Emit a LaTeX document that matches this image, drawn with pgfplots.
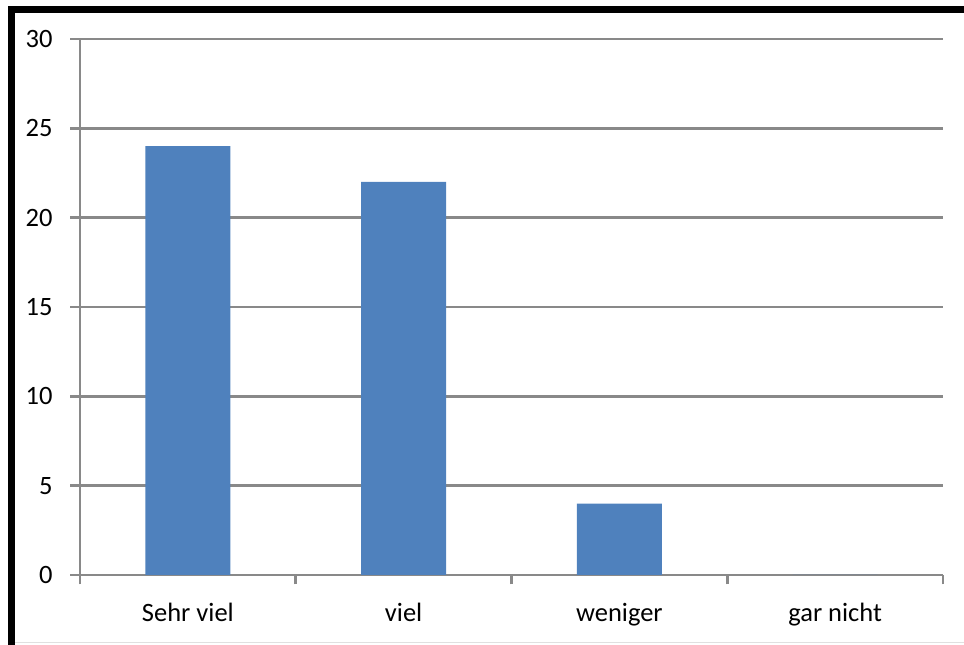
\documentclass[border=0pt]{standalone}
\usepackage{pgfplots}
\pgfplotsset{compat=1.18}
\usepackage{fontspec}
\setmainfont{Carlito}
\definecolor{barblue}{HTML}{4F81BD}
\definecolor{gridgray}{HTML}{898989}
\begin{document}
\fontsize{26.5bp}{31bp}\selectfont
\begin{tikzpicture}[x=1bp,y=1bp]
\useasboundingbox (0,0) rectangle (964,645);
% frame around the chart area
\fill[black] (8,632) rectangle (964,639);
\fill[black] (8,0) rectangle (15,639);
\draw[black!12, line width=1bp] (15,2) -- (964,2);
\begin{axis}[
  at={(80bp,70bp)}, anchor=south west,
  scale only axis, width=863bp, height=536bp,
  xmin=0.5, xmax=4.5, ymin=0, ymax=30,
  axis x line*=bottom, axis y line*=left,
  axis line style={gridgray, line width=2.6bp, -},
  ybar, bar width=85bp,
  xtick={0.5,1.5,2.5,3.5,4.5},
  x tick label as interval,
  xticklabels={Sehr viel, viel, weniger, gar nicht,},
  ytick={0,5,...,30},
  ymajorgrids,
  grid style={gridgray, line width=2.6bp},
  tick align=outside,
  major tick length=9.5bp,
  tick style={gridgray, line width=2.6bp},
  /pgf/number format/assume math mode=true,
  yticklabel style={xshift=-9bp},
  xticklabel style={yshift=-10bp},
  tick label style={font=\fontsize{26.5bp}{31bp}\selectfont},
]
\addplot[fill=barblue, draw=none] coordinates {(1,24) (2,22) (3,4) (4,0)};
\end{axis}
\end{tikzpicture}
\end{document}
